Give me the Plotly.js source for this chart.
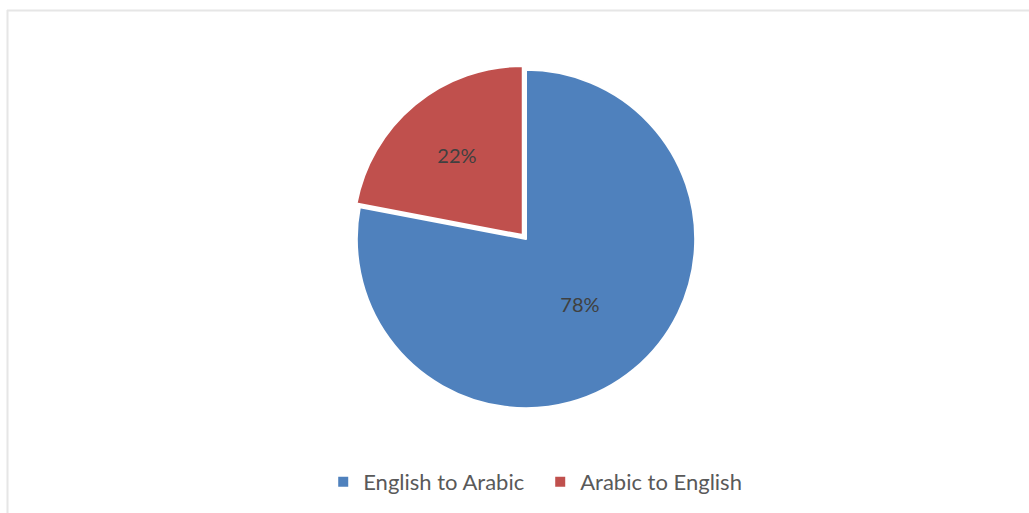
<!DOCTYPE html>
<html>
<head>
<meta charset="utf-8">
<script src="https://cdn.plot.ly/plotly-3.0.1.min.js"></script>
<style>
html,body{margin:0;padding:0;background:#fff;}
#chart{width:1029px;height:513px;}
</style>
</head>
<body>
<div id="chart"></div>
<script>
const labels = ["English to Arabic", "Arabic to English"];
const values = [78, 22];
const colors = ["#4F81BD", "#C0504D"];
const pulls = [0, 0.03];

const W = 1029, H = 513;
const trace = {
  type: "pie",
  labels: labels,
  values: values,
  sort: false,
  direction: "clockwise",
  rotation: 0,
  pull: pulls,
  marker: {colors: colors, line: {color: "#ffffff", width: 2}},
  textinfo: "percent",
  textposition: "inside",
  insidetextorientation: "horizontal",
  textfont: {family: "Lato, sans-serif", size: 20, color: "#404040"},
  hoverinfo: "label+percent",
  domain: {x: [351.75 / W, 700.25 / W], y: [1 - 413.25 / H, 1 - 64.75 / H]}
};

const layout = {
  width: W, height: H,
  margin: {l: 0, r: 0, t: 0, b: 0},
  paper_bgcolor: "#ffffff",
  showlegend: true,
  legend: {
    orientation: "h",
    x: 0.525, xanchor: "center",
    y: 1 - 482 / H, yanchor: "middle",
    font: {family: "Lato, sans-serif", size: 22, color: "#595959"},
    entrywidth: 172,
    entrywidthmode: "pixels",
    traceorder: "normal"
  },
  shapes: [
    {type: "line", xref: "paper", yref: "paper", x0: 7 / W, x1: 1, y0: 1 - 10.5 / H, y1: 1 - 10.5 / H, line: {color: "#e6e6e6", width: 2}},
    {type: "line", xref: "paper", yref: "paper", x0: 7.5 / W, x1: 7.5 / W, y0: 0, y1: 1 - 10 / H, line: {color: "#e6e6e6", width: 2}}
  ]
};

Plotly.newPlot("chart", [trace], layout, {displayModeBar: false, staticPlot: true});
</script>
</body>
</html>
